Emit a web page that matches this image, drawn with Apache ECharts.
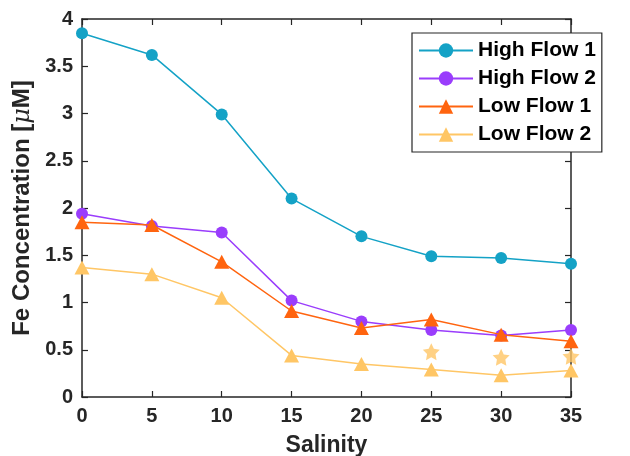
<!DOCTYPE html>
<html>
<head>
<meta charset="utf-8">
<script src="https://cdn.jsdelivr.net/npm/echarts@6/dist/echarts.min.js"></script>
<style>html,body{margin:0;padding:0;background:#fff}#c{width:630px;height:456px}</style>
</head>
<body>
<div id="c"></div>
<script>
var salinity = [0, 5, 10, 15, 20, 25, 30, 35];
var highFlow1 = [3.85, 3.62, 2.99, 2.10, 1.70, 1.49, 1.47, 1.41];
var highFlow2 = [1.94, 1.81, 1.74, 1.02, 0.80, 0.71, 0.65, 0.71];
var lowFlow1 = [1.85, 1.82, 1.43, 0.91, 0.73, 0.82, 0.66, 0.59];
var lowFlow2 = [1.37, 1.30, 1.05, 0.44, 0.35, 0.29, 0.23, 0.28];
var starSalinity = [25, 30, 35];
var starValues = [0.48, 0.42, 0.43];
var seriesNames = ['High Flow 1', 'High Flow 2', 'Low Flow 1', 'Low Flow 2'];
var colors = ['#14a2c6', '#9a3dfc', '#ff640f', '#ffc665'];

function pairs(xs, ys) { return xs.map(function (x, i) { return [x, ys[i]]; }); }

var FONT = 'Liberation Sans';
var starPath = 'path://M0,-10L2.9,-4L9.51,-3.09L4.7,1.5L5.88,8.09L0,5L-5.88,8.09L-4.7,1.5L-9.51,-3.09L-2.9,-4Z';

var axisLine = { show: true, onZero: false, lineStyle: { color: '#262626', width: 1.5 } };
var axisTick = { show: true, inside: true, length: 6, lineStyle: { color: '#262626', width: 1.2 } };
var labelStyle = { color: '#262626', fontFamily: FONT, fontWeight: 'bold', fontSize: 20 };

var chart = echarts.init(document.getElementById('c'), null, { renderer: 'canvas' });
chart.setOption({
  animation: false,
  backgroundColor: '#fff',
  grid: { left: 82, right: 59, top: 19, bottom: 59, containLabel: false, outerBoundsMode: 'none' },
  xAxis: [{
    type: 'value', min: 0, max: 35, interval: 5,
    axisLine: axisLine, axisTick: axisTick, splitLine: { show: false },
    axisLabel: Object.assign({ margin: 9 }, labelStyle),
    name: 'Salinity', nameLocation: 'middle', nameGap: 37,
    nameTextStyle: { color: '#262626', fontFamily: FONT, fontWeight: 'bold', fontSize: 23 }
  }, {
    type: 'value', min: 0, max: 35, interval: 5, position: 'top',
    axisLine: axisLine, axisTick: axisTick, splitLine: { show: false },
    axisLabel: { show: false }
  }],
  yAxis: [{
    type: 'value', min: 0, max: 4, interval: 0.5,
    axisLine: axisLine, axisTick: axisTick, splitLine: { show: false },
    axisLabel: Object.assign({ margin: 9 }, labelStyle),
    name: '{a|Fe Concentration [}{b|μ}{a|M]}', nameLocation: 'middle', nameGap: 47, nameRotate: 90,
    nameTextStyle: {
      color: '#262626',
      rich: {
        a: { fontFamily: FONT, fontWeight: 'bold', fontSize: 24, color: '#262626' },
        b: { fontFamily: 'DejaVu Serif', fontStyle: 'italic', fontSize: 24, color: '#262626' }
      }
    }
  }, {
    type: 'value', min: 0, max: 4, interval: 0.5, position: 'right',
    axisLine: axisLine, axisTick: axisTick, splitLine: { show: false },
    axisLabel: { show: false }
  }],
  legend: {
    orient: 'vertical', left: 412, top: 33,
    data: seriesNames,
    backgroundColor: '#fff', borderColor: '#262626', borderWidth: 1.2,
    padding: [7, 6, 7, 6],
    itemWidth: 54, itemHeight: 18, itemGap: 7,
    textStyle: { color: '#000', fontFamily: FONT, fontWeight: 'bold', fontSize: 21 }
  },
  series: [
    { name: seriesNames[0], type: 'line', data: pairs(salinity, highFlow1), color: colors[0],
      symbol: 'circle', symbolSize: 12, lineStyle: { width: 1.5 }, z: 2 },
    { name: seriesNames[1], type: 'line', data: pairs(salinity, highFlow2), color: colors[1],
      symbol: 'circle', symbolSize: 12, lineStyle: { width: 1.5 }, z: 3 },
    { name: seriesNames[2], type: 'line', data: pairs(salinity, lowFlow1), color: colors[2],
      symbol: 'triangle', symbolSize: [15, 14], lineStyle: { width: 1.5 }, z: 4 },
    { name: seriesNames[3], type: 'line', data: pairs(salinity, lowFlow2), color: colors[3],
      symbol: 'triangle', symbolSize: [15, 14], lineStyle: { width: 1.5 }, z: 5 },
    { name: 'stars', type: 'scatter', data: pairs(starSalinity, starValues), color: colors[3],
      symbol: starPath, symbolSize: 17, z: 5 }
  ]
});
</script>
</body>
</html>
